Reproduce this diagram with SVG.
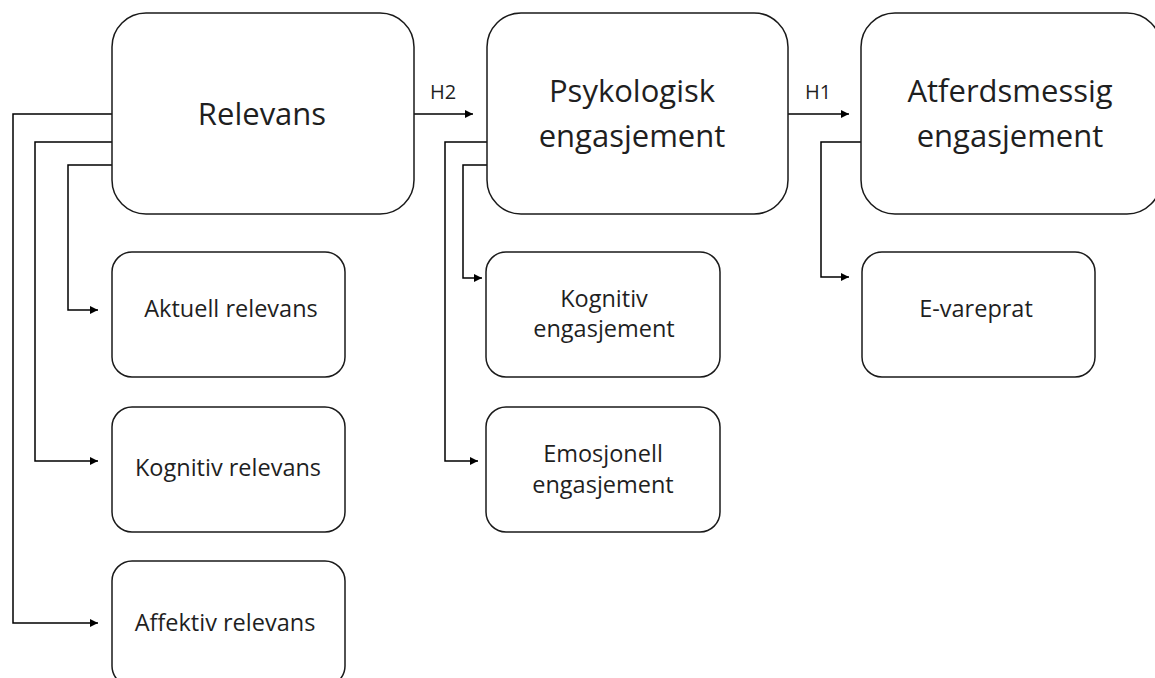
<svg xmlns="http://www.w3.org/2000/svg" width="1155" height="678" viewBox="0 0 1155 678">
<style>
.box{fill:#fff;stroke:#1a1a1a;stroke-width:1.5}
.big{font-family:"Open Sans","Liberation Sans",sans-serif;font-size:31px;fill:#1f1f1f;text-anchor:middle}
.sm{font-family:"Open Sans","Liberation Sans",sans-serif;font-size:23.5px;fill:#1f1f1f;text-anchor:middle}
.lbl{font-family:"Open Sans","Liberation Sans",sans-serif;font-size:20px;fill:#1f1f1f;text-anchor:middle}
.con{fill:none;stroke:#000;stroke-width:1.5}
</style>
<defs>
<marker id="ah" viewBox="0 0 10 10" refX="10" refY="5" markerWidth="9" markerHeight="8" markerUnits="userSpaceOnUse" orient="auto">
<path d="M0,0 L10,5 L0,10 z" fill="#000"/>
</marker>
</defs>
<rect width="1155" height="678" fill="#fff"/>
<g id="connectors">
<path class="con" d="M112,114 H13 V623 H98" marker-end="url(#ah)"/>
<path class="con" d="M112,142 H35 V461 H98" marker-end="url(#ah)"/>
<path class="con" d="M112,165 H68 V310 H98" marker-end="url(#ah)"/>
<path class="con" d="M414,114 H473" marker-end="url(#ah)"/>
<path class="con" d="M487,142 H445 V461 H478" marker-end="url(#ah)"/>
<path class="con" d="M487,165 H463 V278 H482" marker-end="url(#ah)"/>
<path class="con" d="M788,114 H849" marker-end="url(#ah)"/>
<path class="con" d="M861,142 H821 V277 H849" marker-end="url(#ah)"/>
<text class="lbl" x="443" y="99">H2</text>
<text class="lbl" x="818" y="99">H1</text>
</g>
<g id="relevans">
<rect class="box" x="112" y="13" width="302" height="201" rx="34"/>
<text class="big" x="262" y="125">Relevans</text>
</g>
<g id="psykologisk">
<rect class="box" x="487" y="13" width="301" height="201" rx="34"/>
<text class="big" x="632" y="102">Psykologisk</text>
<text class="big" x="632" y="147">engasjement</text>
</g>
<g id="atferdsmessig">
<rect class="box" x="861" y="13" width="300" height="201" rx="34"/>
<text class="big" x="1010" y="102">Atferdsmessig</text>
<text class="big" x="1010" y="147">engasjement</text>
</g>
<g id="aktuell">
<rect class="box" x="112" y="252" width="233" height="125" rx="20"/>
<text class="sm" x="231" y="317">Aktuell relevans</text>
</g>
<g id="kognitiv-relevans">
<rect class="box" x="112" y="407" width="233" height="125" rx="20"/>
<text class="sm" x="228" y="476">Kognitiv relevans</text>
</g>
<g id="affektiv">
<rect class="box" x="112" y="561" width="233" height="125" rx="20"/>
<text class="sm" x="225" y="631">Affektiv relevans</text>
</g>
<g id="kognitiv-engasjement">
<rect class="box" x="486" y="252" width="234" height="125" rx="20"/>
<text class="sm" x="604" y="307">Kognitiv</text>
<text class="sm" x="604" y="337">engasjement</text>
</g>
<g id="emosjonell">
<rect class="box" x="486" y="407" width="234" height="125" rx="20"/>
<text class="sm" x="603" y="462">Emosjonell</text>
<text class="sm" x="603" y="493">engasjement</text>
</g>
<g id="evareprat">
<rect class="box" x="862" y="252" width="233" height="125" rx="20"/>
<text class="sm" x="976" y="317">E-vareprat</text>
</g>
</svg>
